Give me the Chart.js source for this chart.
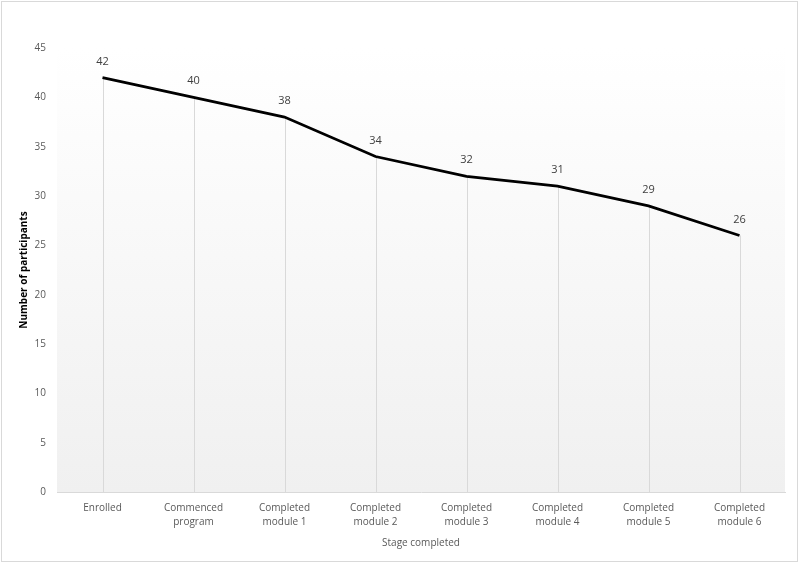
<!DOCTYPE html>
<html>
<head>
<meta charset="utf-8">
<script src="https://cdn.jsdelivr.net/npm/chart.js@4"></script>
<style>
    html, body { margin: 0; padding: 0; background: #ffffff; }
    #wrap { width: 800px; height: 563px; }
</style>
</head>
<body>
<div id="wrap"><canvas id="stageChart" width="800" height="563"></canvas></div>
<script>
// DATA

const stages = [
    'Enrolled',
    ['Commenced', 'program'],
    ['Completed', 'module 1'],
    ['Completed', 'module 2'],
    ['Completed', 'module 3'],
    ['Completed', 'module 4'],
    ['Completed', 'module 5'],
    ['Completed', 'module 6']
];
const participants = [42, 40, 38, 34, 32, 31, 29, 26];
const yTicks = [0, 5, 10, 15, 20, 25, 30, 35, 40, 45];

const tickFont = { family: 'Open Sans', size: 10, lineHeight: 1.4 };
const textColor = '#595959';
const lightLine = '#d9d9d9';

// PLOT BACKGROUND, DROP LINES, VALUE LABELS, OUTER BORDER

const decorations = {
    id: 'decorations',
    beforeDatasetsDraw(chart) {
        const { ctx, chartArea } = chart;
        const grad = ctx.createLinearGradient(0, chartArea.top, 0, chartArea.bottom);
        grad.addColorStop(0, '#ffffff');
        grad.addColorStop(1, '#f0f0f0');
        ctx.save();
        ctx.fillStyle = grad;
        ctx.fillRect(chartArea.left, chartArea.top, chartArea.right - chartArea.left, chartArea.bottom - chartArea.top);

        const meta = chart.getDatasetMeta(0);
        ctx.strokeStyle = lightLine;
        ctx.lineWidth = 1;
        meta.data.forEach(pt => {
            const x = Math.round(pt.x) + 0.5;
            ctx.beginPath();
            ctx.moveTo(x, pt.y);
            ctx.lineTo(x, chartArea.bottom);
            ctx.stroke();
        });
        ctx.restore();
    },
    afterDatasetsDraw(chart) {
        const { ctx } = chart;
        const meta = chart.getDatasetMeta(0);
        ctx.save();
        ctx.font = '11px "Open Sans"';
        ctx.fillStyle = '#404040';
        ctx.textAlign = 'center';
        ctx.textBaseline = 'middle';
        meta.data.forEach((pt, i) => {
            ctx.fillText(String(participants[i]), pt.x, pt.y - 16);
        });
        ctx.restore();
    },
    afterDraw(chart) {
        const { ctx } = chart;
        ctx.save();
        ctx.strokeStyle = lightLine;
        ctx.lineWidth = 1;
        ctx.strokeRect(1.5, 1.5, 796, 560);
        ctx.restore();
    }
};

// CHART

window.onload = function () {

    const ctx = document.getElementById('stageChart').getContext('2d');

    new Chart(ctx, {
        type: 'line',
        data: {
            labels: stages,
            datasets: [{
                label: 'Number of participants',
                data: participants,
                borderColor: '#000000',
                borderWidth: 2.75,
                pointRadius: 0,
                tension: 0,
                fill: false
            }]
        },
        options: {
            responsive: false,
            animation: false,
            layout: {
                padding: { left: 0, right: 15, top: 48, bottom: 0 }
            },
            plugins: {
                legend: { display: false },
                tooltip: { enabled: false }
            },
            scales: {
                x: {
                    offset: true,
                    grid: { display: false, drawTicks: false },
                    border: { display: true, color: lightLine, width: 1 },
                    ticks: {
                        color: textColor,
                        font: tickFont,
                        padding: 9,
                        maxRotation: 0,
                        autoSkip: false
                    },
                    title: {
                        display: true,
                        text: 'Stage completed',
                        color: textColor,
                        font: { family: 'Open Sans', size: 10 },
                        padding: { top: 4, bottom: 14 }
                    },
                    afterFit(scale) {
                        scale.height = 71;
                    }
                },
                y: {
                    min: 0,
                    max: 45,
                    afterBuildTicks(scale) {
                        scale.ticks = yTicks.map(v => ({ value: v }));
                    },
                    grid: { display: false, drawTicks: false },
                    border: { display: false },
                    ticks: {
                        color: textColor,
                        font: { family: 'Open Sans', size: 10 },
                        padding: 11
                    },
                    title: {
                        display: true,
                        text: 'Number of participants',
                        color: '#000000',
                        font: { family: 'Open Sans', size: 10, weight: 'bold' },
                        padding: { top: 18, bottom: 0 }
                    },
                    afterFit(scale) {
                        scale.width = 57;
                    }
                }
            }
        },
        plugins: [decorations]
    });
};
</script>
</body>
</html>
